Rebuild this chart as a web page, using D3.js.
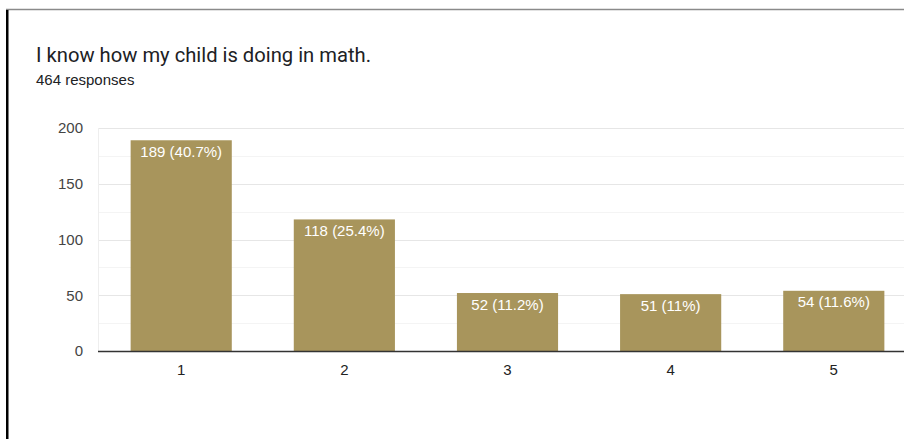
<!DOCTYPE html>
<html>
<head>
<meta charset="utf-8">
<script src="https://cdn.jsdelivr.net/npm/d3@7"></script>
<style>
  html, body { margin: 0; padding: 0; background: #fff; }
  svg { display: block; }
</style>
</head>
<body>
<svg id="chart" width="904" height="439"></svg>
<script>
// Survey answers: rating scale 1–5 with response counts
const categories = ["1", "2", "3", "4", "5"];
const counts = [189, 118, 52, 51, 54];
const percentLabels = ["40.7%", "25.4%", "11.2%", "11%", "11.6%"];
const yTicks = [0, 50, 100, 150, 200];
const yMinorTicks = [25, 75, 125, 175];
const title = "I know how my child is doing in math.";
const subtitle = "464 responses";

const svg = d3.select("#chart");
const W = 904, H = 439;

// Card frame: grey top rule and dark left edge
svg.append("line").attr("x1", 6).attr("x2", W).attr("y1", 9.5).attr("y2", 9.5)
  .attr("stroke", "#8a8a8a").attr("stroke-width", 1.5);
svg.append("rect").attr("x", 6).attr("y", 10).attr("width", 2.5).attr("height", H - 10)
  .attr("fill", "#000");

svg.append("text").attr("x", 36).attr("y", 62)
  .attr("font-family", "Roboto, 'Open Sans', sans-serif").attr("font-size", 20.2)
  .attr("fill", "#202124").text(title);
svg.append("text").attr("x", 36).attr("y", 85)
  .attr("font-family", "'Liberation Sans', Arial, sans-serif").attr("font-size", 15)
  .attr("fill", "#202124").text(subtitle);

const plotLeft = 98, plotRight = 917;
const y = d3.scaleLinear().domain([0, 200]).range([351, 128]);
const x = d3.scaleBand().domain(categories).range([plotLeft, plotRight])
  .paddingInner(0.38).paddingOuter(0.2);

const font = "'Liberation Sans', Arial, sans-serif";

// Gridlines
svg.append("g").selectAll("line").data(yMinorTicks).join("line")
  .attr("x1", plotLeft).attr("x2", W).attr("y1", d => Math.round(y(d)) + 0.5).attr("y2", d => Math.round(y(d)) + 0.5)
  .attr("stroke", "#f4f4f4").attr("stroke-width", 1);
svg.append("g").selectAll("line").data(yTicks.filter(d => d > 0)).join("line")
  .attr("x1", plotLeft).attr("x2", W).attr("y1", d => Math.round(y(d)) + 0.5).attr("y2", d => Math.round(y(d)) + 0.5)
  .attr("stroke", "#e6e6e6").attr("stroke-width", 1);
svg.append("line").attr("x1", plotLeft + 0.5).attr("x2", plotLeft + 0.5).attr("y1", y(200)).attr("y2", y(0))
  .attr("stroke", "#eeeeee");

// Y axis labels
const yAxis = d3.axisLeft(y).tickValues(yTicks).tickSize(0).tickPadding(0);
const gy = svg.append("g").attr("transform", `translate(83,0)`).call(yAxis);
gy.select(".domain").remove();
gy.selectAll("text").attr("font-family", font).attr("font-size", 15).attr("fill", "#444");

// Bars
svg.append("g").selectAll("rect").data(counts).join("rect")
  .attr("x", (d, i) => x(categories[i]))
  .attr("y", d => y(d))
  .attr("width", x.bandwidth())
  .attr("height", d => y(0) - y(d))
  .attr("fill", "#a8955c");

// Value labels inside bars
svg.append("g").selectAll("text").data(counts).join("text")
  .attr("x", (d, i) => x(categories[i]) + x.bandwidth() / 2)
  .attr("y", d => y(d) + 16.5)
  .attr("text-anchor", "middle")
  .attr("font-family", font).attr("font-size", 15).attr("fill", "#fff")
  .text((d, i) => `${d} (${percentLabels[i]})`);

// X axis baseline and labels
svg.append("line").attr("x1", plotLeft).attr("x2", W).attr("y1", y(0) + 0.5).attr("y2", y(0) + 0.5)
  .attr("stroke", "#333").attr("stroke-width", 1.5);
const xAxis = d3.axisBottom(x).tickSize(0).tickPadding(0);
const gx = svg.append("g").attr("transform", `translate(0,${y(0) + 24})`).call(xAxis);
gx.select(".domain").remove();
gx.selectAll("text").attr("font-family", font).attr("font-size", 15).attr("fill", "#222").attr("dy", 0);
</script>
</body>
</html>
